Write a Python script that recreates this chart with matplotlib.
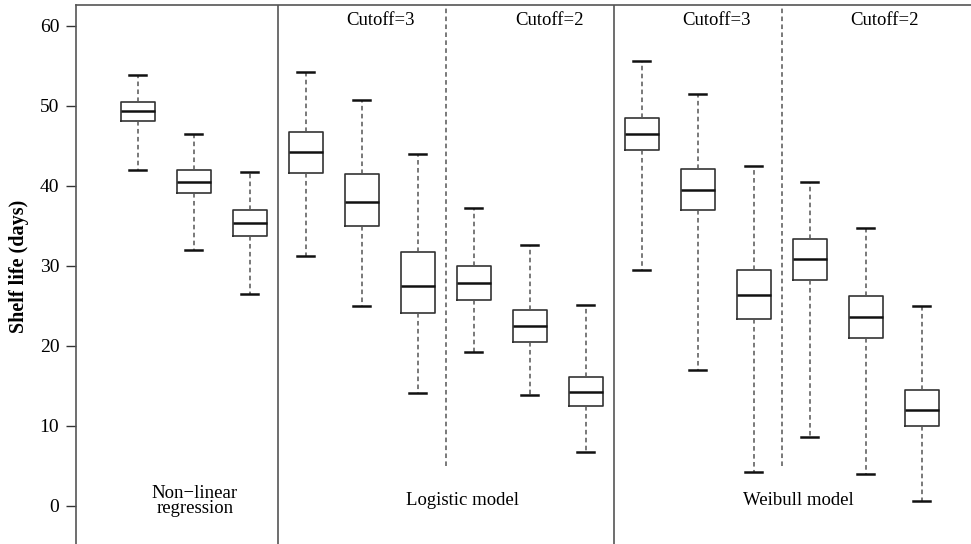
import matplotlib
matplotlib.use("Agg")
import matplotlib.pyplot as plt

plt.rcParams["font.family"] = ["Liberation Serif", "DejaVu Serif"]

# five-number summaries (15 boxes, left to right)
whislo = [42.0, 32.0, 26.4, 31.2, 25.0, 14.1, 19.2, 13.8, 6.7, 29.5, 16.9, 4.2, 8.6, 3.9, 0.6]
q1 = [48.1, 39.1, 33.7, 41.6, 34.9, 24.1, 25.7, 20.4, 12.5, 44.4, 37.0, 23.3, 28.2, 21.0, 9.9]
med = [49.3, 40.5, 35.3, 44.2, 38.0, 27.5, 27.8, 22.5, 14.2, 46.5, 39.5, 26.3, 30.8, 23.6, 12.0]
q3 = [50.4, 42.0, 36.9, 46.7, 41.4, 31.7, 29.9, 24.5, 16.1, 48.5, 42.1, 29.5, 33.3, 26.2, 14.4]
whishi = [53.8, 46.4, 41.7, 54.2, 50.7, 43.9, 37.2, 32.6, 25.1, 55.6, 51.4, 42.4, 40.4, 34.7, 24.9]

model_names = ["Non\u2212linear\nregression", "Logistic model", "Weibull model"]
cutoff_names = ["Cutoff=3", "Cutoff=2", "Cutoff=3", "Cutoff=2"]

stats = [
    {"whislo": a, "q1": b, "med": c, "q3": d, "whishi": e, "fliers": []}
    for a, b, c, d, e in zip(whislo, q1, med, q3, whishi)
]
positions = list(range(1, len(stats) + 1))

fig = plt.figure(figsize=(9.71, 5.44), dpi=100)
ax = fig.add_axes([76 / 971, 0, 1 - 76 / 971, 1 - 5.3 / 544])

ax.bxp(
    stats,
    positions=positions,
    widths=0.61,
    capwidths=0.3,
    showfliers=False,
    boxprops={"color": "#333333", "linewidth": 1.2},
    medianprops={"color": "#111111", "linewidth": 1.8},
    whiskerprops={"color": "#555555", "linewidth": 1.1, "linestyle": (0, (3, 2.2))},
    capprops={"color": "#111111", "linewidth": 1.8},
)

# separators between models and cutoffs
for x in [3.5, 9.5]:
    ax.axvline(x, color="#555555", linewidth=1.2)
for x in [6.5, 12.5]:
    ax.plot([x, x], [5.0, 63], color="#555555", linewidth=1.1, linestyle=(0, (3, 2.2)))

# labels
for x, txt in zip([5.34, 8.35, 11.34, 14.34], cutoff_names):
    ax.text(x, 60.7, txt, ha="center", va="center", fontsize=13.5)
for x, txt in zip([2.02, 6.8, 12.8], model_names):
    ax.text(x, 0.6, txt, ha="center", va="center", fontsize=13.5, linespacing=0.9)

ax.set_xlim(-0.1, 15.88)
ax.set_ylim(-4.79, 62.55)
ax.set_xticks([])
ax.set_yticks([0, 10, 20, 30, 40, 50, 60])
ax.tick_params(axis="y", labelsize=14, length=7, width=1.0, color="#333333", pad=5)
ax.set_ylabel("Shelf life (days)", fontsize=14.5, fontweight="bold")
ax.yaxis.set_label_coords(-0.052, 0.516)

ax.spines["bottom"].set_visible(False)
ax.spines["right"].set_visible(False)
for s in ["left", "top"]:
    ax.spines[s].set_color("#555555")
    ax.spines[s].set_linewidth(1.2)

fig.savefig("out.png", dpi=100)
